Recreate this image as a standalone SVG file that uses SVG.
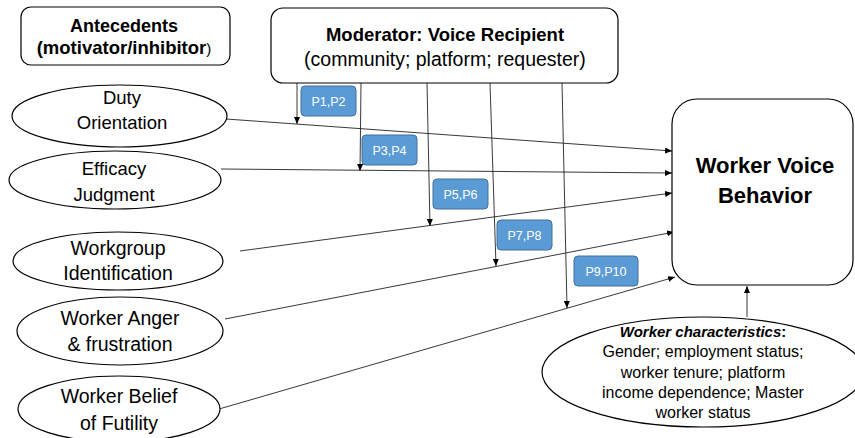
<svg xmlns="http://www.w3.org/2000/svg" width="855" height="438" viewBox="0 0 855 438">
<style>
.node{fill:#fff;stroke:#000;stroke-width:1.2}
.t{font-family:"Liberation Sans",Arial,sans-serif;fill:#000;text-anchor:middle}
.b{font-weight:bold}
.p{fill:#5B9BD5;stroke:#41719C;stroke-width:1}
.pt{font-family:"Liberation Sans",Arial,sans-serif;fill:#fff;font-size:12.5px;text-anchor:middle}
.c{stroke:#222;stroke-width:0.9;fill:none;marker-end:url(#ah)}
</style>
<defs>
<marker id="ah" markerWidth="7" markerHeight="6" refX="7" refY="3" orient="auto" markerUnits="userSpaceOnUse">
<path d="M0,0 L7,3 L0,6 z" fill="#000"/>
</marker>
</defs>
<rect width="855" height="438" fill="#fff"/>

<g id="connectors">
<line class="c" x1="226" y1="119" x2="672" y2="151"/>
<line class="c" x1="221" y1="169" x2="672" y2="173"/>
<line class="c" x1="240" y1="251" x2="672" y2="193"/>
<line class="c" x1="225" y1="319" x2="674" y2="232"/>
<line class="c" x1="219" y1="409" x2="675" y2="277"/>
<line class="c" x1="297" y1="83" x2="297" y2="124"/>
<line class="c" x1="361" y1="83" x2="360" y2="171"/>
<line class="c" x1="427" y1="83" x2="430" y2="226"/>
<line class="c" x1="490" y1="83" x2="496" y2="266"/>
<line class="c" x1="562" y1="83" x2="567" y2="308"/>
<line class="c" x1="747" y1="317" x2="747" y2="286"/>
</g>

<g id="antecedents">
<rect class="node" x="21" y="7" width="209" height="58" rx="10"/>
<text class="t b" x="124" y="32" font-size="18">Antecedents</text>
<text class="t" x="124" y="54" font-size="18.5"><tspan font-weight="bold">(motivator/inhibitor</tspan><tspan font-size="15">)</tspan></text>
</g>

<g id="moderator">
<rect class="node" x="271" y="8" width="347" height="75" rx="12"/>
<text class="t b" x="445" y="41" font-size="18.5">Moderator: Voice Recipient</text>
<text class="t" x="445" y="66" font-size="19.5">(community; platform; requester)</text>
</g>

<g id="duty">
<ellipse class="node" cx="119.5" cy="116" rx="107.5" ry="31"/>
<text class="t" x="122" y="104" font-size="18.5">Duty</text>
<text class="t" x="122" y="129" font-size="18.5">Orientation</text>
</g>

<g id="efficacy">
<ellipse class="node" cx="115" cy="180" rx="106" ry="29"/>
<text class="t" x="114" y="175" font-size="18.5">Efficacy</text>
<text class="t" x="114" y="201" font-size="18.5">Judgment</text>
</g>

<g id="workgroup">
<ellipse class="node" cx="118" cy="261" rx="105" ry="29"/>
<text class="t" x="118" y="255" font-size="19.5">Workgroup</text>
<text class="t" x="118" y="280" font-size="19.5">Identification</text>
</g>

<g id="anger">
<ellipse class="node" cx="120" cy="331" rx="103" ry="34"/>
<text class="t" x="120" y="325" font-size="19.5">Worker Anger</text>
<text class="t" x="120" y="351" font-size="19.5">&amp; frustration</text>
</g>

<g id="futility">
<ellipse class="node" cx="119" cy="409" rx="101" ry="33"/>
<text class="t" x="119" y="403" font-size="19.5">Worker Belief</text>
<text class="t" x="119" y="430" font-size="19.5">of Futility</text>
</g>

<g id="behavior">
<rect class="node" x="672" y="99" width="181" height="186" rx="25"/>
<text class="t b" x="765" y="173" font-size="22">Worker Voice</text>
<text class="t b" x="765" y="203" font-size="22">Behavior</text>
</g>

<g id="characteristics">
<ellipse class="node" cx="703" cy="372" rx="161" ry="55"/>
<text class="t" x="703" y="337" font-size="15" font-weight="bold"><tspan font-style="italic">Worker characteristics</tspan>:</text>
<text class="t" x="703" y="357" font-size="16">Gender; employment status;</text>
<text class="t" x="703" y="378" font-size="16">worker tenure; platform</text>
<text class="t" x="703" y="398" font-size="16">income dependence; Master</text>
<text class="t" x="703" y="418" font-size="16">worker status</text>
</g>

<g id="p12"><rect class="p" x="301" y="86" width="55" height="30" rx="4"/><text class="pt" x="328.5" y="105.5">P1,P2</text></g>
<g id="p34"><rect class="p" x="362" y="135" width="55" height="30" rx="4"/><text class="pt" x="389.5" y="154.5">P3,P4</text></g>
<g id="p56"><rect class="p" x="433" y="179" width="55" height="30" rx="4"/><text class="pt" x="460.5" y="198.5">P5,P6</text></g>
<g id="p78"><rect class="p" x="497" y="220" width="55" height="30" rx="4"/><text class="pt" x="524.5" y="239.5">P7,P8</text></g>
<g id="p910"><rect class="p" x="574" y="256" width="64" height="30" rx="4"/><text class="pt" x="606" y="275.5">P9,P10</text></g>
</svg>
